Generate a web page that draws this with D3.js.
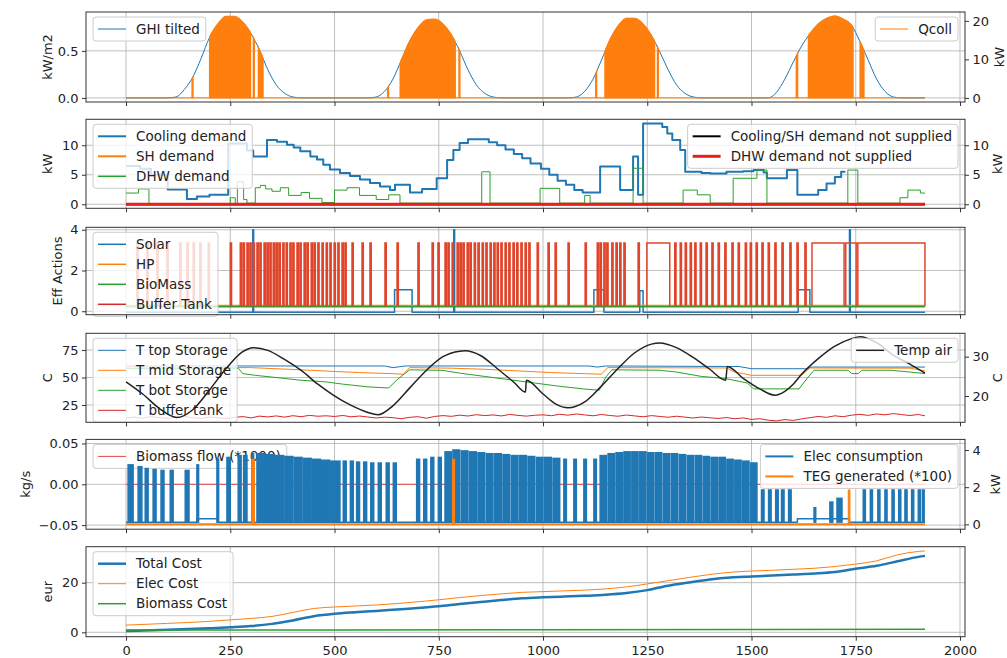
<!DOCTYPE html>
<html>
<head>
<meta charset="utf-8">
<script src="https://cdn.jsdelivr.net/npm/d3@7"></script>
<style>
  html, body { margin: 0; padding: 0; background: #fff; }
  svg { display: block; }
  text { font-family: "DejaVu Sans", "Liberation Sans", sans-serif; fill: #222; }
</style>
</head>
<body>
<svg id="chart" width="1007" height="658"></svg>
<script>
// ===================== data (time step index, value) =====================
const xTickValues = [0, 250, 500, 750, 1000, 1250, 1500, 1750, 2000];

// Panel 1: irradiance on the tilted plane (kW/m2)
const ghiTilted = [[0,0],[100,0],[120,0.01],[140,0.09],[160,0.22],[180,0.42],[200,0.64],[220,0.78],[240,0.86],[260,0.86],[280,0.80],[300,0.68],[320,0.51],[340,0.30],[360,0.14],[380,0.05],[400,0.01],[420,0],
  [580,0],[600,0.01],[620,0.07],[640,0.2],[660,0.4],[680,0.6],[700,0.74],[720,0.82],[740,0.83],[760,0.78],[780,0.67],[800,0.5],[820,0.3],[840,0.14],[860,0.05],[880,0.01],[900,0],
  [1060,0],[1080,0.01],[1100,0.07],[1120,0.2],[1140,0.4],[1160,0.61],[1180,0.76],[1200,0.84],[1220,0.84],[1240,0.78],[1260,0.66],[1280,0.49],[1300,0.3],[1320,0.14],[1340,0.05],[1360,0.01],[1380,0],
  [1540,0],[1560,0.06],[1580,0.2],[1600,0.38],[1620,0.55],[1640,0.68],[1660,0.78],[1680,0.84],[1700,0.86],[1720,0.83],[1740,0.77],[1760,0.6],[1780,0.4],[1800,0.2],[1820,0.07],[1840,0.01],[1860,0],[1916,0]];
// collector heat when running (kW) and the running periods
const qcollLevel = [[0,0],[120,0],[140,2.2],[160,5.4],[180,10.4],[200,15.8],[220,19.3],[240,21.2],[260,21.2],[280,19.8],[300,16.8],[320,12.6],[340,7.4],[360,3.5],[380,0],
  [600,0],[620,1.7],[640,4.9],[660,9.9],[680,14.8],[700,18.3],[720,20.3],[740,20.5],[760,19.3],[780,16.5],[800,12.4],[820,7.4],[840,3.4],[860,0],
  [1080,0],[1100,1.7],[1120,4.9],[1140,9.9],[1160,15.1],[1180,18.8],[1200,20.7],[1220,20.7],[1240,19.3],[1260,16.3],[1280,12.1],[1300,7.4],[1320,3.4],[1340,0],
  [1560,1.5],[1580,4.9],[1600,9.4],[1620,13.6],[1640,16.8],[1660,19.3],[1680,20.7],[1700,21.3],[1720,20.5],[1740,19.0],[1760,14.8],[1780,9.9],[1800,5],[1820,1.7],[1840,0],[1916,0]];
const qcollRuns = [[158,161],[200,216],[218,299],[305,308],[317,329],
  [627,630],[657,700],[702,790],[798,801],
  [1126,1129],[1148,1205],[1207,1268],[1274,1277],
  [1607,1611],[1636,1690],[1692,1744],[1760,1770]];

// Panel 2: demands (kW), step values
const coolingDemand = [[0,6.5],[34,6.0],[60,5.0],[100,2.5],[146,0.9],[170,1.3],[200,1.6],[245,10.3],[290,9.1],[305,8.1],[338,10.9],[362,10.6],[386,10.1],[402,9.6],[418,9.0],[442,8.1],[458,7.6],[473,6.7],[489,5.9],[513,5.3],[537,4.8],[561,4.2],[585,3.6],[609,3.0],[633,2.4],[645,3.3],[681,2.0],[710,2.6],[745,4.4],[770,7.5],[785,9.2],[800,10.4],[820,11.0],[870,10.5],[890,10.0],[910,9.3],[930,8.5],[950,7.8],[970,6.9],[995,6.0],[1015,5.0],[1035,4.0],[1055,3.3],[1075,2.4],[1095,2.0],[1115,2.0],[1137,6.4],[1185,2.4],[1216,8.1],[1228,1.6],[1240,13.7],[1286,13.1],[1298,12.0],[1310,10.9],[1329,9.2],[1341,5.5],[1380,5.3],[1401,5.2],[1440,5.5],[1480,5.6],[1505,5.8],[1529,5.4],[1537,4.4],[1585,5.8],[1610,1.6],[1660,2.4],[1680,3.5],[1700,4.6],[1715,5.5],[1725,5.5]];
const shDemand = [[0,0],[1916,0]];
const dhwDemand = [[0,1.9],[30,2.6],[55,0],[250,1.1],[262,0],[267,3.8],[282,0.8],[290,0.2],[310,2.8],[322,3.2],[335,2.6],[350,2.2],[370,2.8],[390,1.5],[420,2.0],[440,1.0],[470,0.3],[500,2.4],[530,2.8],[560,1.5],[600,0.8],[630,1.6],[657,0.2],[853,5.5],[873,0.2],[993,2.7],[1040,0.2],[1100,1.5],[1113,0.2],[1216,6.1],[1240,0.2],[1336,2.4],[1370,1.6],[1401,0.2],[1456,4.4],[1513,5.8],[1537,0.2],[1731,5.8],[1755,0.2],[1856,1.1],[1875,2.4],[1905,1.9],[1916,1.9]];
const coolingNotSupplied = [[0,0],[1916,0]];
const dhwNotSupplied = [[0,0],[1916,0]];

// Panel 3: actuator signals
const solarAction = [[0,-0.05],[304,4.0],[306,-0.05],[644,1.05],[686,-0.05],[786,4.0],[788,-0.05],[1122,1.05],[1146,-0.05],[1232,1.0],[1240,-0.05],[1612,1.05],[1640,-0.05],[1735,4.0],[1737,-0.05],[1916,-0.05]];
const hpAction = [[0,0.28],[1916,0.28]];
const biomassAction = [[0,0.22],[1916,0.22]];
const bufferOff = 0.25, bufferOn = 3.35;
const bufferRuns = [[26,29],[50,53],[74,77],[98,101],[129,132],[146,149],[161,164],[177,180],[197,200],
  [250,253],[274,277],[281,284],[290,293],[297,300],[305,308],[314,317],[321,324],[331,334],[338,341],[345,348],[353,356],[360,363],[367,370],[376,379],[384,387],[393,396],[400,403],[410,413],[417,420],[427,430],[434,437],[444,447],[451,454],[460,463],[470,473],[480,483],[489,492],[499,502],[508,511],[518,521],[525,528],
  [542,545],[566,569],[585,588],[621,624],[650,653],[700,703],[734,737],[748,751],[765,768],[772,775],[782,785],
  [794,797],[801,804],[808,811],[818,821],[825,828],[835,838],[844,847],[854,857],[863,866],[873,876],[882,885],[890,893],[899,902],[909,912],[918,921],[928,931],[937,940],[947,950],[957,960],[966,969],
  [986,989],[1012,1015],[1029,1032],[1060,1063],[1101,1104],[1130,1133],[1137,1140],[1146,1149],[1153,1156],[1165,1168],[1175,1178],[1184,1187],[1194,1197],[1228,1231],
  [1249,1304],[1316,1319],[1329,1332],[1341,1344],[1353,1356],[1364,1367],[1377,1380],[1391,1394],[1405,1408],[1420,1423],[1436,1439],[1453,1456],[1468,1471],[1485,1488],[1497,1500],[1511,1514],[1525,1528],[1540,1543],[1556,1559],[1573,1576],[1592,1595],[1609,1612],[1628,1631],
  [1645,1722],[1726,1751],[1755,1916]];

// Panel 4: storage temperatures (C) and outdoor air temperature (C)
const tTopStorage = [[0,60.5],[620,60.5],[640,59],[670,60.5],[1110,60.5],[1130,59.5],[1150,60.5],[1470,60],[1500,58],[1630,58],[1645,59.5],[1916,59.5]];
const tMidStorage = [[0,59.5],[300,59],[360,58],[420,57],[500,55.5],[560,54.5],[640,53.5],[665,53],[680,59],[780,58.5],[860,57.5],[940,56],[1020,54.5],[1100,53.5],[1140,53],[1155,59],[1440,58.7],[1460,55],[1500,52],[1620,52],[1640,58.7],[1880,58.5],[1916,56]];
const tBotStorage = [[0,58.2],[270,58.2],[280,53.6],[310,52],[360,50],[420,47.5],[480,46],[520,44],[580,41.5],[630,40.5],[650,48],[680,57],[760,56.5],[800,54],[860,51],[920,48],[980,45],[1040,42],[1100,39.5],[1135,38.5],[1150,50],[1165,57],[1280,56.6],[1320,55],[1380,51],[1437,49.1],[1490,45],[1505,39.7],[1614,39.7],[1635,50],[1650,56.6],[1732,56.6],[1740,53.6],[1756,53.6],[1764,56.6],[1836,56.6],[1916,53.6]];
const bufferTankTemp = [13.2,14.0,13.0,14.4,13.5,12.8,13.9,14.6,13.4,12.9,14.1,13.6,12.7,13.8,14.5,13.3,14.9,14.2,15.1,14.0,15.3,14.4,15.6,14.8,15.2,
  14.6,15.5,14.3,15.0,14.1,13.2,14.0,13.5,12.6,13.8,14.4,13.0,14.6,15.4,14.7,15.8,15.0,16.2,15.4,16.0,15.1,16.4,15.6,14.9,15.7,
  16.1,15.3,16.6,15.8,16.9,16.0,15.2,16.4,15.5,14.8,15.9,15.1,14.3,15.4,14.6,13.9,14.8,14.0,13.2,14.1,13.4,12.8,13.6,12.5,13.3,
  11.9,12.6,11.2,10.6,11.8,11.0,12.4,13.5,14.6,13.8,15.2,14.4,15.8,16.5,15.6,16.9,16.1,17.2,16.3,15.5,16.4,
  15.2];
const bufferTankTimes = d3.range(0, 1901, 20).concat([1916]);
const tempAir = [[0,23.6],[40,20.5],[80,16.8],[122,14.5],[160,16.5],[200,21.5],[240,27],[280,31.3],[305,32.3],[340,31.6],[380,29.3],[420,26.5],[460,23],[496,20.3],[540,17.6],[580,15.8],[604,15.2],[640,17.5],[680,22],[720,26.5],[760,30],[800,31.4],[813,31.5],[850,30.3],[890,27],[930,23.5],[958,21],[960,24],[1000,20.5],[1030,18],[1060,17],[1100,18.5],[1140,22.5],[1180,27],[1220,31],[1260,33.2],[1280,33.5],[1320,32.3],[1360,29.8],[1400,26.8],[1438,24],[1442,27.5],[1480,24.5],[1520,21.8],[1556,20.2],[1580,21.2],[1600,23],[1620,25.5],[1660,29.5],[1700,32.7],[1740,34.6],[1760,35.1],[1800,33.6],[1840,30.4],[1880,28.1],[1916,25.8]];

// Panel 5: biomass flow (kg/s), electricity use and TEG output (kW)
const biomassFlow = [[0,0],[1916,0]];
const elecBase = [[0,0.12],[170,0.3],[220,0.12],[1610,0.3],[1735,0.12],[1916,0.12]];
const elecPulses = [[5,17,3.2],[29,38,3.1],[46,53,3.0],[65,72,2.95],[84,91,2.9],[106,113,2.9],[142,151,2.9],[170,174,3.2],[218,222,3.5],[242,250,3.6],[269,276,3.7],[282,290,3.7],[302,306,3.8],
  [314,334,3.8],[337,356,3.75],[359,378,3.7],[381,400,3.65],[403,422,3.6],[425,444,3.55],[447,466,3.5],[469,488,3.45],[491,513,3.4],
  [521,528,3.4],[538,545,3.4],[553,560,3.35],[570,577,3.35],[587,594,3.3],[605,612,3.3],[624,631,3.3],[641,648,3.3],[697,704,3.5],[714,721,3.5],[731,738,3.6],[749,756,3.6],
  [765,780,3.9],[784,800,4.0],[804,820,3.95],[824,840,3.9],[844,860,3.85],[864,880,3.8],[884,900,3.8],[904,920,3.75],[924,940,3.7],[944,960,3.7],[964,980,3.65],[984,1000,3.6],[1004,1020,3.6],[1024,1040,3.55],
  [1050,1056,3.5],[1074,1080,3.5],[1098,1104,3.5],[1122,1128,3.5],
  [1137,1152,3.7],[1156,1171,3.8],[1175,1190,3.85],[1194,1209,3.9],[1213,1228,3.9],[1232,1247,3.9],[1251,1266,3.85],[1270,1285,3.85],[1289,1304,3.8],[1308,1323,3.8],[1327,1342,3.75],[1346,1361,3.7],[1365,1380,3.7],[1384,1399,3.65],[1403,1418,3.6],[1422,1437,3.6],[1441,1456,3.5],[1460,1475,3.45],[1479,1494,3.4],[1498,1513,3.3],
  [1524,1530,1.85],[1541,1547,1.85],[1558,1564,1.85],[1572,1578,1.85],[1589,1595,1.85],
  [1650,1654,0.9],[1688,1695,1.2],[1705,1717,1.4],
  [1768,1773,1.85],[1785,1790,1.85],[1803,1808,1.85],[1820,1825,1.85],[1837,1842,1.85],[1853,1858,1.85],[1868,1873,1.85],[1884,1889,1.85],[1900,1905,1.85],[1910,1914,1.85]];
const tegPulses = [[302,308,3.5],[783,788,3.5],[1732,1736,1.85]];

// Panel 6: cumulative costs (eur)
const totalCost = [[0,0.5],[100,1.0],[200,1.6],[250,2.0],[300,2.5],[350,3.4],[400,4.8],[450,6.5],[500,7.5],[550,8.1],[600,8.6],[650,9.2],[700,9.8],[750,10.5],[800,11.4],[850,12.2],[900,13.0],[950,13.7],[1000,14.1],[1050,14.4],[1100,14.7],[1150,15.1],[1200,15.8],[1250,17.0],[1300,18.8],[1350,20.1],[1400,21.3],[1450,22.1],[1500,22.5],[1550,22.9],[1600,23.3],[1650,23.7],[1700,24.3],[1750,25.6],[1800,26.8],[1850,28.6],[1900,30.4],[1916,30.8]];
const elecCost = [[0,2.9],[100,3.6],[200,4.4],[250,5.0],[300,5.6],[350,6.4],[400,8.0],[450,9.6],[500,10.2],[550,10.6],[600,11.0],[650,11.6],[700,12.3],[750,13.1],[800,14.0],[850,14.8],[900,15.5],[950,16.1],[1000,16.4],[1050,16.7],[1100,17.0],[1150,17.5],[1200,18.3],[1250,19.5],[1300,20.8],[1350,22.1],[1400,23.3],[1450,24.2],[1500,24.7],[1550,25.0],[1600,25.4],[1650,25.8],[1700,26.5],[1750,27.5],[1800,28.8],[1850,31.2],[1900,32.6],[1916,32.8]];
const biomassCost = [[0,0.9],[500,0.9],[1000,1.0],[1500,1.1],[1916,1.2]];

// ===================== layout =====================
const plotLeft = 86, plotRight = 965;
const x = d3.scaleLinear().domain([-96, 2012]).range([plotLeft, plotRight]);
const COL = { blue: "#1f77b4", orange: "#ff7f0e", green: "#2ca02c", red: "#d62728" };
const FS = 13, LEGEND_FS = 13.5;

const svg = d3.select("#chart");
const defs = svg.append("defs");

function textWidth(str, size) {
  const t = svg.append("text").attr("font-size", size).text(str);
  const w = t.node().getComputedTextLength();
  t.remove();
  return w;
}

function makePanel(spec) {
  const y = d3.scaleLinear().domain(spec.yDomain).range([spec.bottom, spec.top]);
  const y2 = spec.y2Domain ? d3.scaleLinear().domain(spec.y2Domain).range([spec.bottom, spec.top]) : null;
  const clipId = "clip-" + spec.name;
  defs.append("clipPath").attr("id", clipId).append("rect")
    .attr("x", plotLeft).attr("y", spec.top)
    .attr("width", plotRight - plotLeft).attr("height", spec.bottom - spec.top);

  const root = svg.append("g");
  const grid = root.append("g").attr("stroke", "#b0b0b0").attr("stroke-width", 0.8);
  xTickValues.forEach(v => grid.append("line").attr("x1", x(v)).attr("x2", x(v)).attr("y1", spec.top).attr("y2", spec.bottom));
  spec.yTicks.forEach(v => grid.append("line").attr("x1", plotLeft).attr("x2", plotRight).attr("y1", y(v)).attr("y2", y(v)));

  const main = root.append("g").attr("clip-path", `url(#${clipId})`);
  const mainLegend = root.append("g");
  const twin = root.append("g").attr("clip-path", `url(#${clipId})`);
  const twinLegend = root.append("g");
  const frame = root.append("g");

  // axes
  const xAxis = d3.axisBottom(x).tickValues(xTickValues).tickSize(4).tickPadding(5)
    .tickFormat(spec.xLabels ? d3.format("d") : () => "");
  const ax = frame.append("g").attr("transform", `translate(0,${spec.bottom})`).call(xAxis);
  const yAxis = d3.axisLeft(y).tickValues(spec.yTicks).tickSize(4).tickPadding(3.5).tickFormat(spec.yFormat);
  const ay = frame.append("g").attr("transform", `translate(${plotLeft},0)`).call(yAxis);
  const axes = [ax, ay];
  if (y2) {
    const y2Axis = d3.axisRight(y2).tickValues(spec.y2Ticks).tickSize(4).tickPadding(3.5).tickFormat(spec.y2Format);
    axes.push(frame.append("g").attr("transform", `translate(${plotRight},0)`).call(y2Axis));
  }
  axes.forEach(a => {
    a.select(".domain").remove();
    a.selectAll(".tick line").attr("stroke", "#333").attr("stroke-width", 1);
    a.selectAll(".tick text").attr("font-size", FS).attr("fill", "#222")
      .attr("font-family", '"DejaVu Sans", sans-serif');
  });

  frame.append("rect").attr("x", plotLeft).attr("y", spec.top)
    .attr("width", plotRight - plotLeft).attr("height", spec.bottom - spec.top)
    .attr("fill", "none").attr("stroke", "#333").attr("stroke-width", 1);

  const mid = (spec.top + spec.bottom) / 2;
  frame.append("text").attr("transform", `translate(${spec.yLabelX},${mid}) rotate(-90)`)
    .attr("text-anchor", "middle").attr("dy", "0.35em").attr("font-size", FS).text(spec.yLabel);
  if (spec.y2Label) {
    frame.append("text").attr("transform", `translate(${spec.y2LabelX},${mid}) rotate(-90)`)
      .attr("text-anchor", "middle").attr("dy", "0.35em").attr("font-size", FS).text(spec.y2Label);
  }
  return { spec, y, y2, main, mainLegend, twin, twinLegend };
}

function legend(g, panelTop, side, items) {
  const textW = d3.max(items, d => textWidth(d.label, LEGEND_FS));
  const boxW = 43 + textW + 6;
  const boxX = side === "left" ? plotLeft + 7 : plotRight - 7 - boxW;
  const firstY = panelTop + 17;
  const boxY = firstY - 12;
  const boxH = (items.length - 1) * 20 + 24;
  g.append("rect").attr("x", boxX).attr("y", boxY).attr("width", boxW).attr("height", boxH)
    .attr("rx", 3).attr("fill", "#fff").attr("fill-opacity", 0.8)
    .attr("stroke", "#cccccc").attr("stroke-width", 1);
  items.forEach((d, i) => {
    const cy = firstY + i * 20;
    g.append("line").attr("x1", boxX + 5).attr("x2", boxX + 33).attr("y1", cy).attr("y2", cy)
      .attr("stroke", d.color).attr("stroke-width", d.width);
    g.append("text").attr("x", boxX + 43).attr("y", cy).attr("dy", "0.35em")
      .attr("font-size", LEGEND_FS).text(d.label);
  });
}

function drawLine(g, pairs, yScale, color, width, curve) {
  const gen = d3.line().x(d => x(d[0])).y(d => yScale(d[1])).curve(curve || d3.curveLinear);
  return g.append("path").attr("d", gen(pairs)).attr("fill", "none")
    .attr("stroke", color).attr("stroke-width", width).attr("stroke-linejoin", "round");
}

// ===================== panels =====================
const P1 = makePanel({ name: "p1", top: 12, bottom: 102, yDomain: [-0.0435, 0.913], yTicks: [0, 0.5], yFormat: d3.format(".1f"),
  yLabel: "kW/m2", yLabelX: 47, y2Domain: [-1.07, 22.3], y2Ticks: [0, 10, 20], y2Format: d3.format("d"), y2Label: "kW", y2LabelX: 999 });
const P2 = makePanel({ name: "p2", top: 119.3, bottom: 208.3, yDomain: [-0.685, 14.4], yTicks: [0, 5, 10], yFormat: d3.format("d"),
  yLabel: "kW", yLabelX: 47, y2Domain: [-0.685, 14.4], y2Ticks: [0, 5, 10], y2Format: d3.format("d"), y2Label: "kW", y2LabelX: 997 });
const P3 = makePanel({ name: "p3", top: 227.3, bottom: 314.7, yDomain: [-0.17, 4.12], yTicks: [0, 2, 4], yFormat: d3.format("d"),
  yLabel: "Eff Actions", yLabelX: 57 });
const P4 = makePanel({ name: "p4", top: 333.3, bottom: 422.3, yDomain: [9.3, 90.2], yTicks: [25, 50, 75], yFormat: d3.format("d"),
  yLabel: "C", yLabelX: 47, y2Domain: [13.3, 35.95], y2Ticks: [20, 30], y2Format: d3.format("d"), y2Label: "C", y2LabelX: 997 });
const P5 = makePanel({ name: "p5", top: 439.4, bottom: 529.2, yDomain: [-0.055, 0.055], yTicks: [-0.05, 0, 0.05], yFormat: d3.format(".2f"),
  yLabel: "kg/s", yLabelX: 25, y2Domain: [-0.26, 4.57], y2Ticks: [0, 2, 4], y2Format: d3.format("d"), y2Label: "kW", y2LabelX: 995 });
const P6 = makePanel({ name: "p6", top: 546.7, bottom: 636.7, yDomain: [-1.77, 34.5], yTicks: [0, 20], yFormat: d3.format("d"),
  yLabel: "eur", yLabelX: 47, xLabels: true });

// ---- Panel 1: irradiance and collector heat ----
drawLine(P1.main, ghiTilted, P1.y, COL.blue, 1, d3.curveMonotoneX);
legend(P1.mainLegend, P1.spec.top, "left", [{ label: "GHI tilted", color: COL.blue, width: 1 }]);
{
  const runClip = defs.append("clipPath").attr("id", "qcoll-runs");
  qcollRuns.forEach(r => runClip.append("rect")
    .attr("x", x(r[0]) - 0.5).attr("width", x(r[1]) - x(r[0]) + 1)
    .attr("y", P1.spec.top).attr("height", P1.spec.bottom - P1.spec.top));
  const area = d3.area().x(d => x(d[0])).y0(P1.y2(0)).y1(d => P1.y2(d[1])).curve(d3.curveMonotoneX);
  P1.twin.append("path").attr("d", area(qcollLevel)).attr("clip-path", "url(#qcoll-runs)")
    .attr("fill", COL.orange).attr("stroke", COL.orange).attr("stroke-width", 1);
  drawLine(P1.twin, [[0, 0], [1916, 0]], P1.y2, COL.orange, 1);
}
legend(P1.twinLegend, P1.spec.top, "right", [{ label: "Qcoll", color: COL.orange, width: 1 }]);

// ---- Panel 2: demands ----
drawLine(P2.main, coolingDemand, P2.y, COL.blue, 2, d3.curveStepAfter);
drawLine(P2.main, shDemand, P2.y, COL.orange, 2, d3.curveStepAfter);
drawLine(P2.main, dhwDemand, P2.y, COL.green, 1, d3.curveStepAfter);
legend(P2.mainLegend, P2.spec.top, "left", [
  { label: "Cooling demand", color: COL.blue, width: 2 },
  { label: "SH demand", color: COL.orange, width: 2 },
  { label: "DHW demand", color: COL.green, width: 1.5 }]);
drawLine(P2.twin, coolingNotSupplied, P2.y2, "#000", 2);
drawLine(P2.twin, dhwNotSupplied, P2.y2, "#e8201c", 3);
legend(P2.twinLegend, P2.spec.top, "right", [
  { label: "Cooling/SH demand not supplied", color: "#000", width: 2 },
  { label: "DHW demand not supplied", color: "#e8201c", width: 3 }]);

// ---- Panel 3: actuator signals ----
drawLine(P3.main, solarAction, P3.y, COL.blue, 1.5, d3.curveStepAfter);
drawLine(P3.main, hpAction, P3.y, COL.orange, 1.5);
drawLine(P3.main, biomassAction, P3.y, COL.green, 1.5);
{
  const gen = d3.line().x(d => x(d[0])).y(d => P3.y(d[1]));
  const d = bufferRuns.map(r => gen([[r[0], bufferOff], [r[0], bufferOn], [r[1], bufferOn], [r[1], bufferOff]])).join("");
  P3.main.append("path").attr("d", d).attr("fill", "none").attr("stroke", "#e0452b").attr("stroke-width", 1.5);
}
legend(P3.mainLegend, P3.spec.top, "left", [
  { label: "Solar", color: COL.blue, width: 1.5 },
  { label: "HP", color: COL.orange, width: 1.5 },
  { label: "BioMass", color: COL.green, width: 1.5 },
  { label: "Buffer Tank", color: COL.red, width: 1.5 }]);

// ---- Panel 4: temperatures ----
drawLine(P4.main, tTopStorage, P4.y, COL.blue, 1);
drawLine(P4.main, tMidStorage, P4.y, COL.orange, 1);
drawLine(P4.main, tBotStorage, P4.y, COL.green, 1);
drawLine(P4.main, bufferTankTimes.map((t, i) => [t, bufferTankTemp[i]]), P4.y, COL.red, 1);
legend(P4.mainLegend, P4.spec.top, "left", [
  { label: "T top Storage", color: COL.blue, width: 1 },
  { label: "T mid Storage", color: COL.orange, width: 1 },
  { label: "T bot Storage", color: COL.green, width: 1 },
  { label: "T buffer tank", color: COL.red, width: 1 }]);
drawLine(P4.twin, tempAir, P4.y2, "#222", 1.5, d3.curveMonotoneX);
legend(P4.twinLegend, P4.spec.top, "right", [{ label: "Temp air", color: "#222", width: 1.5 }]);

// ---- Panel 5: biomass flow, electricity, TEG ----
drawLine(P5.main, biomassFlow, P5.y, "#e8474a", 1);
legend(P5.mainLegend, P5.spec.top, "left", [{ label: "Biomass flow (*1000)", color: "#e8474a", width: 1 }]);
drawLine(P5.twin, elecBase, P5.y2, COL.blue, 1.5, d3.curveStepAfter);
P5.twin.selectAll("rect.elec").data(elecPulses).join("rect").attr("class", "elec")
  .attr("x", d => x(d[0])).attr("width", d => Math.max(0.5, x(d[1]) - x(d[0])))
  .attr("y", d => P5.y2(d[2])).attr("height", d => P5.y2(0.12) - P5.y2(d[2]))
  .attr("fill", COL.blue).attr("stroke", COL.blue).attr("stroke-width", 1.5);
drawLine(P5.twin, [[0, 0], [1916, 0]], P5.y2, COL.orange, 2);
P5.twin.selectAll("rect.teg").data(tegPulses).join("rect").attr("class", "teg")
  .attr("x", d => x(d[0])).attr("width", d => Math.max(0.5, x(d[1]) - x(d[0])))
  .attr("y", d => P5.y2(d[2])).attr("height", d => P5.y2(0) - P5.y2(d[2]))
  .attr("fill", COL.orange).attr("stroke", COL.orange).attr("stroke-width", 1);
legend(P5.twinLegend, P5.spec.top, "right", [
  { label: "Elec consumption", color: COL.blue, width: 2 },
  { label: "TEG generated (*100)", color: COL.orange, width: 2 }]);

// ---- Panel 6: costs ----
drawLine(P6.main, totalCost, P6.y, COL.blue, 2.5, d3.curveMonotoneX);
drawLine(P6.main, elecCost, P6.y, COL.orange, 1, d3.curveMonotoneX);
drawLine(P6.main, biomassCost, P6.y, COL.green, 1.5);
legend(P6.mainLegend, P6.spec.top, "left", [
  { label: "Total Cost", color: COL.blue, width: 2.5 },
  { label: "Elec Cost", color: COL.orange, width: 1 },
  { label: "Biomass Cost", color: COL.green, width: 1.5 }]);
</script>
</body>
</html>
